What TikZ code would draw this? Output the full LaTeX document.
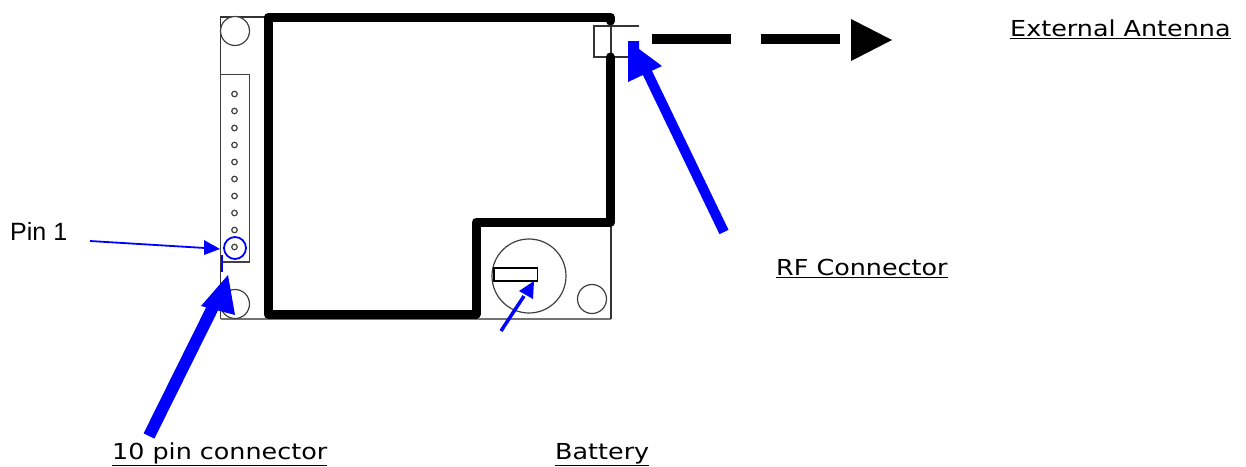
\documentclass[tikz,border=0pt]{standalone}
\usepackage{fontspec}
\setmainfont{DejaVu Sans}
\newfontfamily\pinfont{Liberation Sans}
\newfontfamily\labfont[FakeStretch=1.155]{DejaVu Sans}
\begin{document}
\begin{tikzpicture}[x=1pt,y=-1pt,
  thinline/.style={draw=black!80,line width=1.2pt},
  grayline/.style={draw=black!55,line width=1.5pt},
  thickline/.style={draw=black,line width=9pt,line cap=round,line join=round},
  lab/.style={anchor=base west,inner sep=0pt,font=\labfont\fontsize{22}{26}\selectfont},
  hole/.style={circle,draw=black!75,line width=1.2pt,fill=white,inner sep=0pt,minimum size=#1}]
\useasboundingbox (0,0) rectangle (1246,466);
\fill[white] (0,0) rectangle (1246,466);
% board outline
\coordinate (tl) at (220.5,17); \coordinate (tt) at (268,17);
\coordinate (bl) at (220.5,319); \coordinate (br) at (611,319); \coordinate (rr) at (611,222);
\draw[thinline] (tt) -- (tl) -- (bl);
\draw[grayline] (bl) -- (br);
\draw[thinline] (br) -- (rr);
% connector strip
\node[draw=black!75,line width=1.2pt,minimum width=29pt,minimum height=187.5pt,inner sep=0pt] (strip) at (235,168.25) {};
\foreach \n/\y in {a/94,b/111,c/128,d/145,e/162,f/179,g/196,h/213,i/230,j/247}
  \node[hole=5.5pt] (pin\n) at (234.5,\y) {};
% mounting holes
\node[hole=29pt] (h1) at (235,31) {};
\node[hole=29pt] (h2) at (235,304) {};
\node[hole=29pt] (h3) at (592,299) {};
% battery
\node[hole=74pt] (batt) at (529,276) {};
\node[draw=black,line width=1.2pt,fill=white,minimum width=43.5pt,minimum height=13pt,inner sep=0pt] (clip) at (515.75,274.5) {};
% RF connector
\coordinate (c1) at (639,26); \coordinate (c2) at (594,26); \coordinate (c3) at (594,57); \coordinate (c4) at (632,57);
\coordinate (c5) at (611,26); \coordinate (c6) at (611,53);
\draw[thinline] (c1) -- (c2) -- (c3) -- (c4);
\draw[thinline] (c5) -- (c6);
% thick shield
\coordinate (s1) at (610.5,21); \coordinate (s2) at (610.5,17); \coordinate (s3) at (268,17);
\coordinate (s4) at (268,314); \coordinate (s5) at (476,314); \coordinate (s6) at (476,222);
\coordinate (s7) at (610.5,222); \coordinate (s8) at (610.5,57);
\draw[thickline] (s1) -- (s2) -- (s3) -- (s4) -- (s5) -- (s6) -- (s7) -- (s8);
% antenna dashes
\coordinate (d1) at (652,39); \coordinate (d2) at (731,39); \coordinate (d3) at (761,39); \coordinate (d4) at (840,39);
\draw[draw=black,line width=10pt] (d1) -- (d2);
\draw[draw=black,line width=10pt] (d3) -- (d4);
\fill[black] (851,19) -- (892,40) -- (851,61) -- cycle;
% blue marks
\node[circle,draw=blue,line width=1.8pt,minimum size=22pt,inner sep=0pt] (ring) at (235,248) {};
\coordinate (m1) at (222,255); \coordinate (m2) at (222,272);
\draw[draw=blue,line width=2pt] (m1) -- (m2);
% Pin 1 arrow
\coordinate (p0) at (90,241); \coordinate (p1) at (205,248);
\draw[draw=blue,line width=1.8pt] (p0) -- (p1);
\fill[blue] (204,240) -- (220,249) -- (204,255) -- cycle;
% big connector arrow
\coordinate (q0) at (149,436); \coordinate (q1) at (215,303);
\draw[draw=blue,line width=12pt] (q0) -- (q1);
\fill[blue] (228,275) -- (235,315) -- (201,306) -- cycle;
% RF arrow
\coordinate (r0) at (724,232); \coordinate (r1) at (647,72);
\draw[draw=blue,line width=10pt] (r0) -- (r1);
\fill[blue] (628,41) -- (639,41) -- (639,49) -- (662,66) -- (628,82) -- cycle;
% battery arrow
\coordinate (b0) at (501,331); \coordinate (b1) at (524,296);
\draw[draw=blue,line width=3.5pt] (b0) -- (b1);
\fill[blue] (534,281) -- (533,299) -- (519,291) -- cycle;
% labels
\node[lab] (l1) at (1010,36) {\underline{External Antenna}};
\node[lab] (l2) at (776,275) {\underline{RF Connector}};
\node[lab] (l3) at (112,459) {\underline{10 pin connector}};
\node[lab] (l4) at (555,459) {\underline{Battery}};
\node[anchor=base west,inner sep=0pt,font=\pinfont\fontsize{25}{28}\selectfont] (l5) at (10,240.5) {Pin 1};
\end{tikzpicture}
\end{document}
